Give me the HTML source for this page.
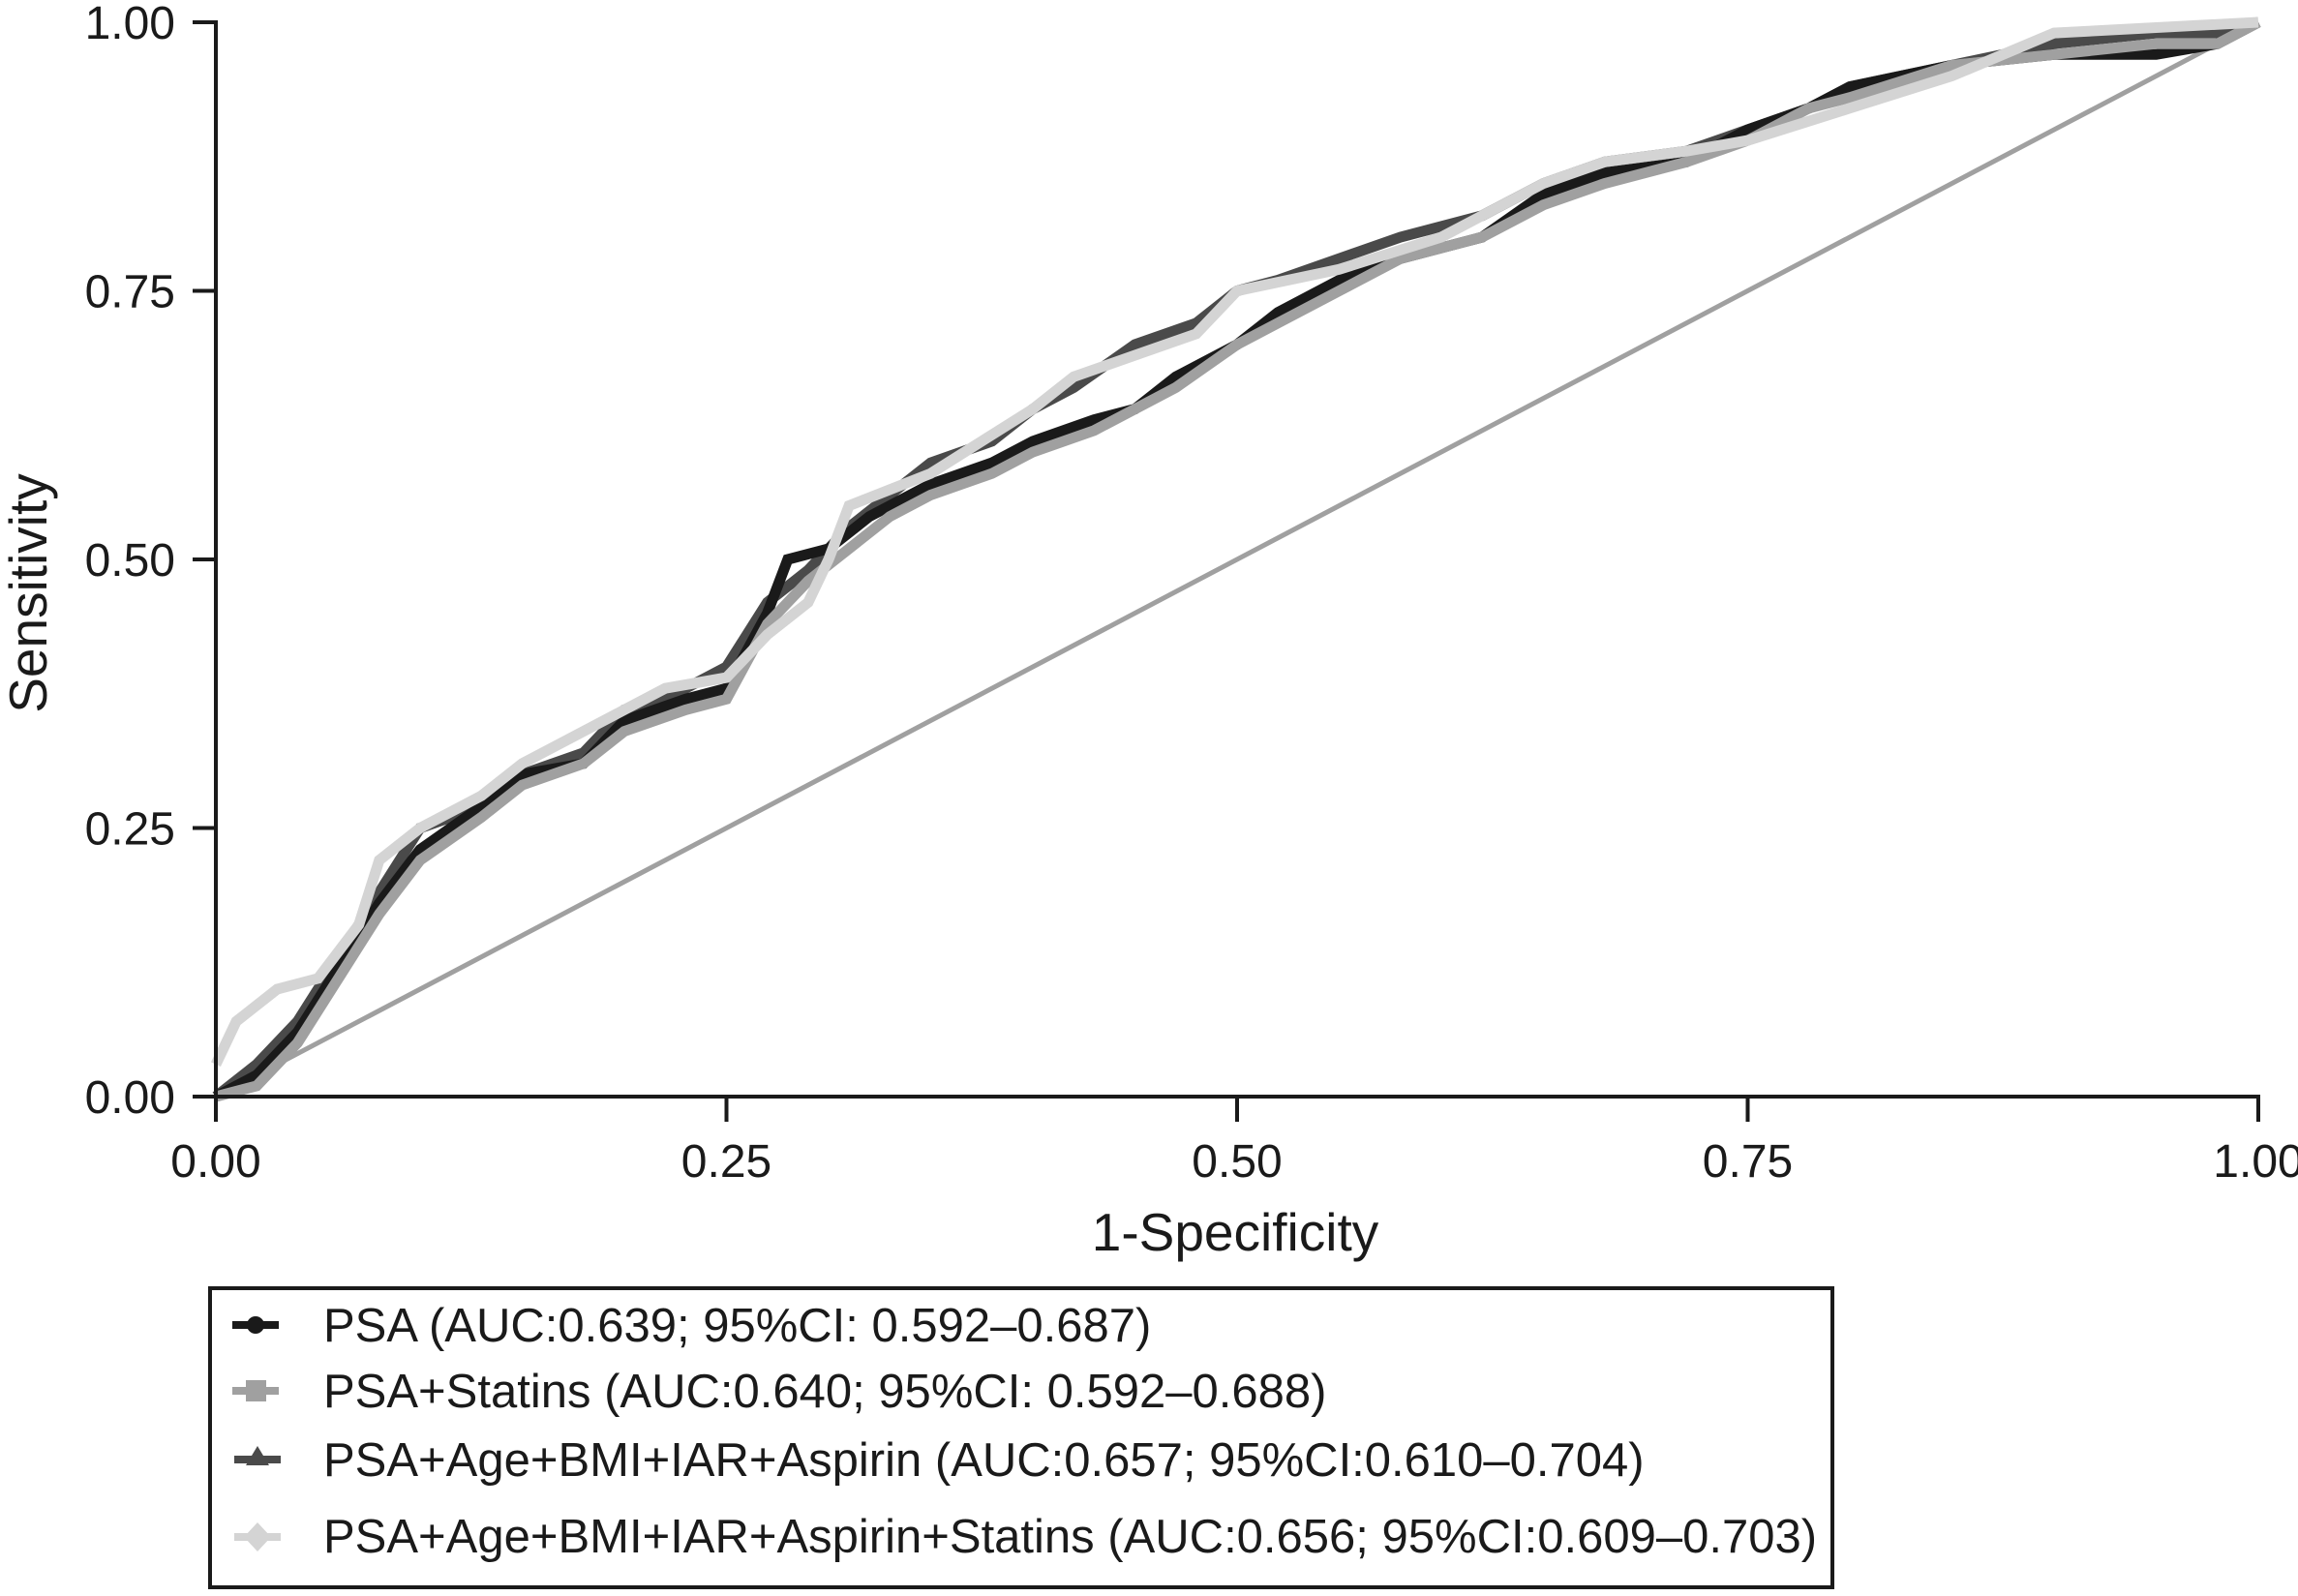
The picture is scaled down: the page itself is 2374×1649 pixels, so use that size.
<!DOCTYPE html>
<html><head><meta charset="utf-8"><style>
html,body{margin:0;padding:0;background:#fff;}
svg text{font-family:"Liberation Sans",sans-serif;fill:#1a1a1a;}
</style></head><body>
<svg id="chart" width="2374" height="1644" viewBox="0 0 2374 1644" xmlns="http://www.w3.org/2000/svg">
<g id="plot"></g>
<g id="axes"></g>
<text x="1276" y="1292" font-size="55" text-anchor="middle">1-Specificity</text>
<text x="0" y="0" font-size="55" text-anchor="middle" transform="translate(48,613) rotate(-90)">Sensitivity</text>
<g>
<rect x="217" y="1331" width="1676" height="309" fill="#fff" stroke="#1a1a1a" stroke-width="4"/>
<g>
<line x1="240" y1="1369" x2="288" y2="1369" stroke="#1a1a1a" stroke-width="8"/><circle cx="264" cy="1369" r="9" fill="#1a1a1a"/>
<text x="334" y="1386" font-size="49">PSA (AUC:0.639; 95%CI: 0.592–0.687)</text></g>
<g>
<line x1="240" y1="1437" x2="288" y2="1437" stroke="#a0a0a0" stroke-width="8"/><rect x="254" y="1426" width="21" height="22" fill="#a0a0a0"/>
<text x="334" y="1454" font-size="49">PSA+Statins (AUC:0.640; 95%CI: 0.592–0.688)</text></g>
<g>
<line x1="242" y1="1508" x2="290" y2="1508" stroke="#4a4a4a" stroke-width="8"/><polygon points="266,1494 278,1514 254,1514" fill="#4a4a4a"/>
<text x="334" y="1525" font-size="49">PSA+Age+BMI+IAR+Aspirin (AUC:0.657; 95%CI:0.610–0.704)</text></g>
<g>
<line x1="242" y1="1588" x2="290" y2="1588" stroke="#d4d4d4" stroke-width="8"/><polygon points="266,1573 280,1588 266,1603 252,1588" fill="#d4d4d4"/>
<text x="334" y="1604" font-size="49">PSA+Age+BMI+IAR+Aspirin+Statins (AUC:0.656; 95%CI:0.609–0.703)</text></g>
</g>
</svg>
<script>
const ticks = [0, 0.25, 0.5, 0.75, 1];
const tickLabels = ["0.00", "0.25", "0.50", "0.75", "1.00"];
const psaFpr = [0,0.02,0.04,0.06,0.08,0.1,0.13,0.15,0.18,0.2,0.23,0.25,0.27,0.28,0.3,0.32,0.35,0.38,0.4,0.43,0.45,0.47,0.5,0.52,0.55,0.58,0.62,0.65,0.68,0.72,0.75,0.78,0.8,0.85,0.9,0.95,0.98,1];
const psaTpr = [0,0.02,0.06,0.12,0.18,0.23,0.27,0.30,0.31,0.35,0.37,0.38,0.45,0.50,0.51,0.54,0.57,0.59,0.61,0.63,0.64,0.67,0.70,0.73,0.76,0.78,0.80,0.84,0.86,0.87,0.90,0.92,0.94,0.96,0.97,0.97,0.98,1];
const statFpr = [0,0.02,0.04,0.06,0.08,0.1,0.13,0.15,0.18,0.2,0.23,0.25,0.27,0.29,0.31,0.33,0.35,0.38,0.4,0.43,0.45,0.47,0.5,0.52,0.55,0.58,0.62,0.65,0.68,0.72,0.75,0.78,0.8,0.85,0.9,0.95,0.98,1];
const statTpr = [0,0.01,0.05,0.11,0.17,0.22,0.26,0.29,0.31,0.34,0.36,0.37,0.44,0.48,0.51,0.54,0.56,0.58,0.60,0.62,0.64,0.66,0.70,0.72,0.75,0.78,0.80,0.83,0.85,0.87,0.89,0.92,0.93,0.96,0.97,0.98,0.98,1];
const ageFpr = [0,0.02,0.04,0.06,0.08,0.1,0.13,0.15,0.18,0.2,0.23,0.25,0.27,0.29,0.31,0.33,0.35,0.38,0.4,0.42,0.45,0.48,0.5,0.52,0.55,0.58,0.62,0.65,0.68,0.72,0.75,0.78,0.8,0.85,0.9,0.95,0.98,1];
const ageTpr = [0,0.03,0.07,0.13,0.19,0.25,0.27,0.30,0.32,0.36,0.38,0.40,0.46,0.49,0.53,0.56,0.59,0.61,0.64,0.66,0.70,0.72,0.75,0.76,0.78,0.80,0.82,0.85,0.87,0.88,0.90,0.92,0.94,0.96,0.98,0.99,0.99,1];
const fullFpr = [0,0.01,0.03,0.05,0.07,0.08,0.1,0.13,0.15,0.2,0.22,0.25,0.27,0.29,0.3,0.31,0.35,0.4,0.42,0.45,0.48,0.5,0.55,0.6,0.65,0.68,0.72,0.75,0.8,0.85,0.9,0.95,1];
const fullTpr = [0.03,0.07,0.10,0.11,0.16,0.22,0.25,0.28,0.31,0.36,0.38,0.39,0.43,0.46,0.50,0.55,0.58,0.64,0.67,0.69,0.71,0.75,0.77,0.80,0.85,0.87,0.88,0.89,0.92,0.95,0.99,0.995,1];
const X0=223, X1=2333, Y0=1133, Y1=23;
function xs(v){return X0+(X1-X0)*v;}
function ys(v){return Y0-(Y0-Y1)*v;}
const NS="http://www.w3.org/2000/svg";
const plot=document.getElementById('plot');
const axes=document.getElementById('axes');
const diag=document.createElementNS(NS,'line');


diag.setAttribute('x1',xs(0));diag.setAttribute('y1',ys(0));diag.setAttribute('x2',xs(1));diag.setAttribute('y2',ys(1));
diag.setAttribute('stroke','#a0a0a0');diag.setAttribute('stroke-width','5');
plot.appendChild(diag);
function curve(fx,ty,color,name){
  const p=document.createElementNS(NS,'polyline');
  
  
  p.setAttribute('points',fx.map((f,i)=>xs(f)+','+ys(ty[i])).join(' '));
  p.setAttribute('fill','none');p.setAttribute('stroke',color);p.setAttribute('stroke-width','11');
  p.setAttribute('stroke-linejoin','miter');
  plot.appendChild(p);
}
curve(ageFpr,ageTpr,'#4a4a4a','roc-psa-age-bmi-iar-aspirin');
curve(psaFpr,psaTpr,'#1a1a1a','roc-psa');
curve(statFpr,statTpr,'#a0a0a0','roc-psa-statins');
curve(fullFpr,fullTpr,'#d4d4d4','roc-psa-age-bmi-iar-aspirin-statins');
function ln(x1,y1,x2,y2,name){
  const l=document.createElementNS(NS,'line');
  
  
  l.setAttribute('x1',x1);l.setAttribute('y1',y1);l.setAttribute('x2',x2);l.setAttribute('y2',y2);
  l.setAttribute('stroke','#1a1a1a');l.setAttribute('stroke-width','4');l.setAttribute('stroke-linecap','square');
  axes.appendChild(l);
}
ln(X0,Y0,X1,Y0,'x-axis-line');
ln(X0,Y0,X0,Y1,'y-axis-line');
ticks.forEach((t,i)=>{
  ln(xs(t),Y0,xs(t),Y0+24,'x-tick');
  ln(X0-22,ys(t),X0,ys(t),'y-tick');
  const tx=document.createElementNS(NS,'text');
  
  
  tx.setAttribute('x',xs(t));tx.setAttribute('y',1216);tx.setAttribute('font-size','48');tx.setAttribute('text-anchor','middle');
  tx.textContent=tickLabels[i];axes.appendChild(tx);
  const ty=document.createElementNS(NS,'text');
  
  
  ty.setAttribute('x',181);ty.setAttribute('y',ys(t)+17);ty.setAttribute('font-size','48');ty.setAttribute('text-anchor','end');
  ty.textContent=tickLabels[i];axes.appendChild(ty);
});
</script>
</body></html>
